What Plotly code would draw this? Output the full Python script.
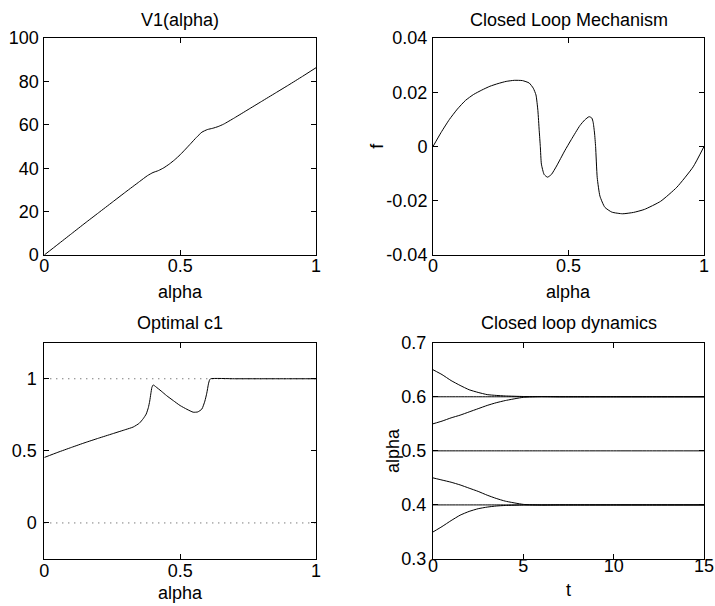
import plotly.graph_objects as go

# ---------------- data ----------------
alpha_v = [0, 0.05, 0.1, 0.15, 0.2, 0.25, 0.3, 0.35, 0.38, 0.4, 0.42, 0.44, 0.46, 0.48,
           0.5, 0.52, 0.54, 0.56, 0.58, 0.6, 0.62, 0.64, 0.66, 0.7, 0.75, 0.8, 0.85,
           0.9, 0.95, 1.0]
v1 = [0, 4.9, 9.8, 14.7, 19.5, 24.3, 29.1, 33.8, 36.6, 38.0, 38.9, 40.2, 41.9, 43.9,
      46.2, 48.8, 51.5, 54.2, 56.6, 57.8, 58.4, 59.2, 60.3, 63.2, 67.0, 70.8, 74.6,
      78.4, 82.3, 86.3]

alpha_f = [0, 0.03, 0.06, 0.09, 0.12, 0.15, 0.18, 0.21, 0.24, 0.27, 0.30, 0.33, 0.355,
           0.37, 0.38, 0.387, 0.392, 0.396, 0.40, 0.41, 0.4225, 0.437, 0.456, 0.486,
           0.51, 0.542, 0.56, 0.576, 0.586, 0.591, 0.596, 0.6, 0.606, 0.616, 0.634,
           0.66, 0.7, 0.74, 0.78, 0.84, 0.9, 0.96, 1.0]
f_vals = [0, 0.0052, 0.0099, 0.0138, 0.0170, 0.0192, 0.0208, 0.0222, 0.0232, 0.0240,
          0.0244, 0.0243, 0.0234, 0.0215, 0.019, 0.0133, 0.0058, 0.0, -0.0065, -0.0103,
          -0.0113, -0.0103, -0.0072, -0.0016, 0.0025, 0.0077, 0.0098, 0.011, 0.0105,
          0.0089, 0.005, 0.0, -0.0115, -0.0183, -0.0224, -0.0242, -0.0248, -0.0243,
          -0.0232, -0.0202, -0.015, -0.0075, 0.0]

alpha_c = [0, 0.05, 0.1, 0.15, 0.2, 0.25, 0.3, 0.327, 0.35, 0.364, 0.375, 0.383, 0.388,
           0.392, 0.396, 0.401, 0.41, 0.43, 0.45, 0.475, 0.5, 0.525, 0.548, 0.565, 0.58,
           0.591, 0.598, 0.604, 0.608, 0.612, 0.7, 0.8, 0.9, 1.0]
c1 = [0.454, 0.49, 0.524, 0.557, 0.588, 0.618, 0.648, 0.665, 0.692, 0.723, 0.755, 0.80,
      0.845, 0.895, 0.94, 0.957, 0.945, 0.915, 0.883, 0.848, 0.814, 0.788, 0.768, 0.77,
      0.79, 0.845, 0.9, 0.963, 0.99, 1.0, 1.0, 1.0, 1.0, 1.0]
c1_bounds = [0, 1]

t = [0, 0.5, 1, 1.5, 2, 2.5, 3, 3.5, 4, 5, 6, 7, 8, 10, 12, 15]
traj_065 = [0.65, 0.641, 0.630, 0.621, 0.613, 0.608, 0.604, 0.6025, 0.6015, 0.6005,
            0.6002, 0.6, 0.6, 0.6, 0.6, 0.6]
traj_060 = [0.6] * 16
traj_055 = [0.55, 0.555, 0.561, 0.566, 0.572, 0.578, 0.584, 0.589, 0.593, 0.599,
            0.6003, 0.6, 0.6, 0.6, 0.6, 0.6]
traj_050 = [0.5] * 16
traj_045 = [0.45, 0.446, 0.442, 0.437, 0.431, 0.425, 0.418, 0.412, 0.407, 0.401,
            0.3997, 0.4, 0.4, 0.4, 0.4, 0.4]
traj_040 = [0.4] * 16
traj_035 = [0.35, 0.360, 0.371, 0.381, 0.388, 0.393, 0.396, 0.398, 0.399, 0.3998,
            0.4, 0.4, 0.4, 0.4, 0.4, 0.4]
trajectories = [traj_065, traj_060, traj_055, traj_050, traj_045, traj_040, traj_035]

alpha_ticks = [0, 0.5, 1]
alpha_ticktext = ["0", "0.5", "1"]
v1_ticks = [0, 20, 40, 60, 80, 100]
f_ticks = [-0.04, -0.02, 0, 0.02, 0.04]
f_ticktext = ["-0.04", "-0.02", "0", "0.02", "0.04"]
c_ticks = [0, 0.5, 1]
c_ticktext = ["0", "0.5", "1"]
t_ticks = [0, 5, 10, 15]
dyn_ticks = [0.3, 0.4, 0.5, 0.6, 0.7]
dyn_ticktext = ["0.3", "0.4", "0.5", "0.6", "0.7"]

# ---------------- figure ----------------
W, H = 715, 606
FONT = "Liberation Sans, Arial, Helvetica, sans-serif"
FS = 18
line = dict(color="black", width=1, shape="spline", smoothing=0.5)

fig = go.Figure()
fig.add_trace(go.Scatter(x=alpha_v, y=v1, mode="lines", line=line, xaxis="x", yaxis="y"))
fig.add_trace(go.Scatter(x=alpha_f, y=f_vals, mode="lines", line=line, xaxis="x2", yaxis="y2"))
for b in c1_bounds:
    fig.add_trace(go.Scatter(x=[alpha_ticks[0], alpha_ticks[-1]], y=[b, b], mode="lines",
                             line=dict(color="#444", width=1, dash="1px,5px"),
                             xaxis="x3", yaxis="y3"))
fig.add_trace(go.Scatter(x=alpha_c, y=c1, mode="lines", line=line, xaxis="x3", yaxis="y3"))
for tr in trajectories:
    fig.add_trace(go.Scatter(x=t, y=tr, mode="lines", line=line, xaxis="x4", yaxis="y4"))


def px_x(p):
    return p / W


def px_y(p):
    return 1 - p / H


xl_dom = [px_x(44.3), px_x(316)]
xr_dom = [px_x(433), px_x(704)]
yt_dom = [px_y(255), px_y(38)]
yb_dom = [px_y(559), px_y(342.7)]

common = dict(showline=True, linecolor="black", linewidth=1, mirror="allticks",
              ticks="inside", ticklen=5, tickcolor="black", tickwidth=1,
              showgrid=False, zeroline=False, automargin=False,
              tickfont=dict(family=FONT, size=FS, color="black"))

fig.update_layout(
    template="none",
    width=W, height=H, margin=dict(l=0, r=0, t=0, b=0, pad=0),
    paper_bgcolor="white", plot_bgcolor="white", showlegend=False,
    font=dict(family=FONT, size=FS, color="black"),
    xaxis=dict(domain=xl_dom, range=[0, 1], tickvals=alpha_ticks, ticktext=alpha_ticktext,
               anchor="y", ticklabelstandoff=-6, **common),
    yaxis=dict(domain=yt_dom, range=[0, 100], tickvals=v1_ticks, anchor="x",
               ticklabelstandoff=1, **common),
    xaxis2=dict(domain=xr_dom, range=[0, 1], tickvals=alpha_ticks, ticktext=alpha_ticktext,
                anchor="y2", ticklabelstandoff=-6, **common),
    yaxis2=dict(domain=yt_dom, range=[-0.04, 0.04], tickvals=f_ticks, ticktext=f_ticktext,
                anchor="x2", ticklabelstandoff=1, **common),
    xaxis3=dict(domain=xl_dom, range=[0, 1], tickvals=alpha_ticks, ticktext=alpha_ticktext,
                anchor="y3", ticklabelstandoff=-5, **common),
    yaxis3=dict(domain=yb_dom, range=[-0.25, 1.25], tickvals=c_ticks, ticktext=c_ticktext,
                anchor="x3", ticklabelstandoff=3, **common),
    xaxis4=dict(domain=xr_dom, range=[0, 15], tickvals=t_ticks, anchor="y4",
                ticklabelstandoff=-10, **common),
    yaxis4=dict(domain=yb_dom, range=[0.3, 0.7], tickvals=dyn_ticks, ticktext=dyn_ticktext,
                anchor="x4", ticklabelstandoff=2, **common),
)

annots = [
    ("V1(alpha)", 180, 20, 0),
    ("Closed Loop Mechanism", 568.5, 20, 0),
    ("Optimal c1", 180, 323, 0),
    ("Closed loop dynamics", 568.5, 323, 0),
    ("alpha", 180, 292, 0),
    ("alpha", 568.5, 292, 0),
    ("alpha", 180, 593, 0),
    ("t", 568.5, 590, 0),
    ("f", 376.7, 146, -90),
    ("alpha", 393, 451, -90),
]
for text, x, y, ang in annots:
    fig.add_annotation(text=text, x=px_x(x), y=px_y(y), xref="paper", yref="paper",
                       xanchor="center", yanchor="middle", showarrow=False, textangle=ang,
                       font=dict(family=FONT, size=FS, color="black"))

fig.write_html("out.html")
